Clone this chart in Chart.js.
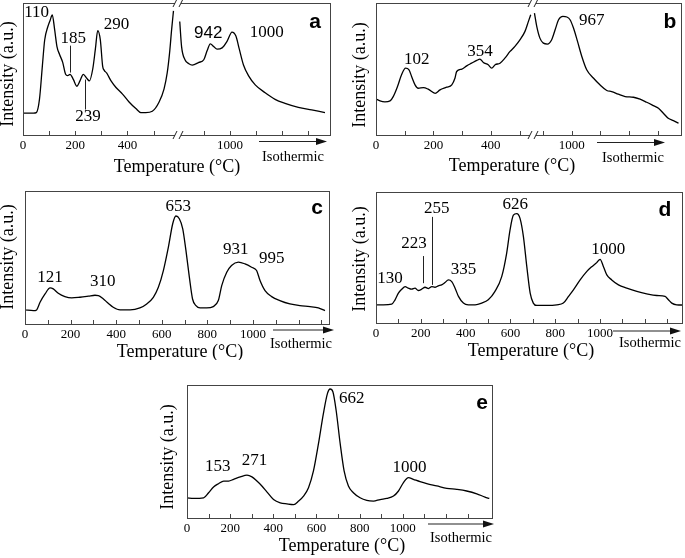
<!DOCTYPE html>
<html>
<head>
<meta charset="utf-8">
<script src="https://cdn.jsdelivr.net/npm/chart.js@4.4.1/dist/chart.umd.min.js"></script>
<style>
  body { margin: 0; background: #fff; width: 685px; height: 558px; position: relative; overflow: hidden; }
  canvas { position: absolute; }
</style>
</head>
<body>
<script>
// x values are axis positions (the temperature axis in a and b is cut, so 1000 sits left of its true place)
const posA = [0, 40, 51, 63, 74, 83, 95, 104, 112, 121, 130, 140, 152, 163, 171, 180, 193, 206, 218, 231, 244, 254, 267, 277, 286, 296, 305, 311, 320, 337, 356, 381, 406, 432, 451, 470, 495, 521, 540, 552, 561, 569, 576, 590, 600, 607, 620, 635, 648, 673, 692, 705, 717, 730, 743, 762, 781, 800, 815, 828, 844, 863, 889, 927, 965, 1003, 1054, 1105, 1156];
const sigA = [16.6, 16.6, 17, 27, 52, 72, 82, 87, 91, 80, 67, 61, 55, 46, 45, 46, 42, 37, 41, 46, 43, 41, 50, 65, 79, 72, 52, 49, 47, 41, 36, 31, 25, 20, 17, 17, 18, 25, 35, 47, 62, 80, 94, null, 86, 67, 57, 54, 53, 55, 57, 64, 69, 67, 65, 66, 71, 78, 75, 65, 53, 45, 38, 32, 27, 24, 21, 19, 17];

const posB = [0, 14, 31, 49, 60, 74, 89, 103, 115, 124, 136, 147, 165, 182, 206, 223, 246, 264, 275, 281, 299, 316, 333, 351, 362, 374, 391, 403, 415, 432, 449, 467, 484, 502, 519, 531, 539, 547, 552, 560, 571, 583, 597, 612, 624, 636, 651, 665, 676, 688, 702, 717, 734, 758, 780, 804, 821, 844, 868, 897, 920, 943, 966, 984, 1001, 1018, 1036, 1054];
const sigB = [27.3, 25.8, 25.1, 25.8, 29.1, 36.2, 45.6, 50.6, 49.4, 44.3, 38, 35.4, 35.9, 34.7, 31.6, 34.2, 36.2, 38, 43, 48.1, 49.9, 52.4, 54.4, 56.5, 57.5, 54.9, 53.2, 50.6, 53.2, 54.4, 58.2, 63.3, 67.1, 72.2, 78.5, 86.1, 91.1, null, 92.4, 82.3, 73.4, 69.6, 68.9, 72.2, 79.7, 87.3, 89.9, 89.4, 87.3, 81, 70.9, 59.5, 49.4, 43, 38, 33.7, 32.9, 30.9, 29.1, 28.6, 27.1, 24.8, 22.3, 20.3, 16.5, 12.7, 10.9, 8.9];

const posC = [0, 37, 51, 66, 88, 110, 124, 146, 175, 205, 241, 278, 307, 322, 344, 365, 387, 417, 461, 504, 534, 563, 585, 607, 629, 648, 662, 677, 692, 706, 721, 735, 750, 768, 797, 826, 848, 863, 885, 906, 936, 965, 994, 1016, 1031, 1053, 1082, 1118, 1162, 1206, 1250, 1287, 1316];
const sigC = [10.6, 10, 10.6, 16.3, 22.6, 27.1, 26.4, 23.1, 20.6, 19.6, 20.1, 20.9, 21.6, 21.4, 18.8, 15.6, 12.6, 10.6, 10.6, 12.1, 15.1, 20.1, 27.6, 40.2, 57.8, 75.4, 81.2, 79.1, 71.6, 55.3, 35.2, 18.8, 13.8, 12.1, 12.1, 13.1, 17.6, 28.9, 38.9, 44, 46.5, 45.2, 42.7, 40.2, 32.7, 25.1, 20.6, 17.6, 15.1, 13.8, 13.1, 12.1, 10];

const posD = [0, 33, 70, 85, 100, 115, 130, 144, 159, 174, 189, 204, 219, 234, 249, 263, 278, 293, 308, 323, 338, 353, 368, 390, 412, 442, 472, 501, 531, 561, 583, 598, 613, 628, 643, 658, 673, 688, 702, 717, 762, 807, 836, 859, 881, 911, 940, 963, 985, 1000, 1015, 1030, 1052, 1082, 1119, 1164, 1208, 1253, 1290, 1305, 1320, 1342, 1370];
const sigD = [13.9, 13.9, 14.4, 17.7, 22.8, 25.8, 27.8, 26.6, 25.8, 26.6, 24.8, 25.8, 27.3, 26.3, 27.8, 27.3, 28.4, 29.1, 30.9, 32.9, 31.6, 26.6, 20.3, 15.2, 13.9, 13.9, 15.2, 17.7, 24.1, 35.4, 53.2, 70.9, 82.3, 83.5, 79.7, 65.8, 43, 22.8, 15.2, 13.4, 13.4, 13.9, 15.2, 20.3, 25.3, 32.9, 39.2, 43, 46.1, 48.6, 43, 36.7, 32.9, 29.1, 26.6, 24.1, 22.3, 21, 20.3, 17.7, 15.2, 13.9, 13.7];

const posE = [0, 31, 77, 100, 123, 146, 170, 193, 216, 247, 278, 301, 324, 347, 370, 401, 432, 463, 494, 517, 540, 563, 586, 609, 632, 651, 663, 676, 691, 710, 728, 748, 771, 802, 833, 864, 895, 926, 957, 980, 1003, 1026, 1049, 1080, 1111, 1157, 1204, 1250, 1296, 1343, 1381, 1401];
const sigE = [15.2, 14.7, 15.2, 19, 23.3, 25.8, 27.8, 27.8, 29.1, 30.9, 32.2, 30.9, 27.8, 24.1, 19.7, 13.9, 11.4, 10.6, 10.1, 12.7, 16.5, 22.8, 35.4, 55.7, 78.5, 93.7, 97, 94.9, 81, 55.7, 35.4, 24.1, 19, 15.2, 13.2, 12.7, 13.9, 14.7, 16.5, 20.3, 26.6, 30.4, 29.1, 27.3, 25.8, 24.1, 22.3, 21.5, 20.3, 18.2, 15.7, 14.7];

// tick labels
const tickPosA = [0, 200, 400, 792];
const tickPosB = [0, 200, 400, 682];
const tickPosCDE = [0, 200, 400, 600, 800, 1000];
const tickTextAB = ['0', '200', '400', '1000'];
const tickTextCDE = ['0', '200', '400', '600', '800', '1000'];
const minorA = [100, 300, 500, 692, 892, 992, 1092];
const minorB = [100, 300, 500, 582, 782, 882, 982];
const minorCDE = [100, 300, 500, 700, 900, 1100, 1200, 1300];

// peak labels: text, x, y (last flag = sans font)
const peaksA = [['110', 52, 92.7], ['185', 192, 72.8], ['239', 249, 13.8], ['290', 358, 83.6], ['942', 709, 77.3, 1], ['1000', 933, 77.8]];
const peaksB = [['102', 142, 57.1], ['354', 362, 63.4], ['967', 752, 86.8]];
const peaksC = [['121', 110, 34.8], ['310', 341, 32.2], ['653', 672, 88.5], ['931', 925, 56.1], ['995', 1082, 49.1]];
const peaksD = [['130', 62, 34.2], ['223', 170, 60.3], ['255', 271, 87.5], ['335', 390, 40.7], ['626', 621, 90.1], ['1000', 1036, 55.9]];
const peaksE = [['153', 142, 38.9], ['271', 313, 43.4], ['662', 764, 89.6], ['1000', 1031, 37.9]];
// leader lines: x, y from, y to
const leadersA = [[179, 67.7, 47.3], [236, 42, 19.3]];
const leadersD = [[211, 51.1, 30.4], [251, 81, 29.1]];

const SERIF = '"Liberation Serif", "Times New Roman", serif';
const SANS = '"Liberation Sans", Arial, sans-serif';

const panels = [
  { pos: posA, sig: sigA, max: 1179, ticks: tickPosA, text: tickTextAB, minor: minorA, brk: 593, peaks: peaksA, leaders: leadersA, letter: 'a',
    box: [0, 0, 340, 178], area: [23, 3, 331, 135], iso: [236, 304, 6.5, 270, 22], xt: [154, 32], yt: [-15, 71], lt: [16, 19] },
  { pos: posB, sig: sigB, max: 1066, ticks: tickPosB, text: tickTextAB, minor: minorB, brk: 547, peaks: peaksB, leaders: [], letter: 'b',
    box: [340, 0, 345, 178], area: [376, 3, 682, 135], iso: [221, 289, 7.5, 257, 23], xt: [136, 31], yt: [-16, 72], lt: [12, 19] },
  { pos: posC, sig: sigC, max: 1338, ticks: tickPosCDE, text: tickTextCDE, minor: minorCDE, brk: null, peaks: peaksC, leaders: [], letter: 'c',
    box: [0, 178, 340, 182], area: [25, 191, 330, 324], iso: [248, 309, 6, 276, 20], xt: [155, 28], yt: [-17, 66], lt: [13, 17] },
  { pos: posD, sig: sigD, max: 1370, ticks: tickPosCDE, text: tickTextCDE, minor: minorCDE, brk: null, peaks: peaksD, leaders: leadersD, letter: 'd',
    box: [340, 178, 345, 182], area: [376, 192, 683, 323], iso: [237, 305, 8, 274, 20], xt: [155, 28], yt: [-16, 67], lt: [18, 18] },
  { pos: posE, sig: sigE, max: 1418, ticks: tickPosCDE, text: tickTextCDE, minor: minorCDE, brk: null, peaks: peaksE, leaders: [], letter: 'e',
    box: [150, 362, 370, 196], area: [187, 385, 493, 518], iso: [241, 307, 6, 274, 20], xt: [155, 28], yt: [-19, 72], lt: [11, 18] }
];

const decor = {
  id: 'decor',
  afterDraw(chart) {
    const p = chart.options.plugins.decor.panel;
    const { ctx, chartArea: ca, scales: { x, y } } = chart;
    const L = Math.round(ca.left), R = Math.round(ca.right), T = Math.round(ca.top), B = Math.round(ca.bottom);
    ctx.save();
    ctx.strokeStyle = '#444';
    ctx.lineWidth = 1;
    ctx.strokeRect(L + 0.5, T + 0.5, R - L - 1, B - T);

    // inward tick marks
    ctx.beginPath();
    p.ticks.concat(p.minor).forEach(v => {
      const px = Math.round(x.getPixelForValue(v)) + 0.5;
      ctx.moveTo(px, B);
      ctx.lineTo(px, B - 4);
    });
    ctx.stroke();

    // axis break
    if (p.brk != null) {
      const bx = Math.round(x.getPixelForValue(p.brk));
      [T, B].forEach(yb => {
        ctx.fillStyle = '#fff';
        ctx.fillRect(bx - 3, yb - 1, 6, 3);
        ctx.beginPath();
        ctx.moveTo(bx - 5, yb + 4); ctx.lineTo(bx - 1, yb - 4);
        ctx.moveTo(bx + 1, yb + 4); ctx.lineTo(bx + 5, yb - 4);
        ctx.strokeStyle = '#222';
        ctx.stroke();
      });
    }

    // leader lines
    ctx.strokeStyle = '#222';
    p.leaders.forEach(l => {
      const lx = Math.round(x.getPixelForValue(l[0])) + 0.5;
      ctx.beginPath();
      ctx.moveTo(lx, y.getPixelForValue(l[1]));
      ctx.lineTo(lx, y.getPixelForValue(l[2]));
      ctx.stroke();
    });

    // peak labels
    ctx.fillStyle = '#000';
    ctx.textAlign = 'center';
    ctx.textBaseline = 'middle';
    p.peaks.forEach(k => {
      ctx.font = k[3] ? '17px ' + SANS : '17px ' + SERIF;
      ctx.fillText(k[0], x.getPixelForValue(k[1]), y.getPixelForValue(k[2]));
    });

    // panel letter
    ctx.font = 'bold 21px ' + SANS;
    ctx.fillText(p.letter, R - p.lt[0], T + p.lt[1]);

    // isothermic arrow
    const [x1, x2, dy, tx, ty] = p.iso;
    const ay = B + dy;
    ctx.beginPath();
    ctx.moveTo(L + x1, ay);
    ctx.lineTo(L + x2 - 8, ay);
    ctx.lineWidth = 1.2;
    ctx.stroke();
    ctx.beginPath();
    ctx.moveTo(L + x2, ay);
    ctx.lineTo(L + x2 - 11, ay - 3.5);
    ctx.lineTo(L + x2 - 11, ay + 3.5);
    ctx.closePath();
    ctx.fillStyle = '#111';
    ctx.fill();
    ctx.fillStyle = '#000';
    ctx.font = '14.5px ' + SERIF;
    ctx.fillText('Isothermic', L + tx, B + ty);

    // axis titles
    ctx.font = '18px ' + SERIF;
    ctx.fillText('Temperature (°C)', L + p.xt[0], B + p.xt[1]);
    ctx.translate(L + p.yt[0], T + p.yt[1]);
    ctx.rotate(-Math.PI / 2);
    ctx.fillText('Intensity (a.u.)', 0, 0);
    ctx.restore();
  }
};

panels.forEach(p => {
  const cv = document.createElement('canvas');
  cv.width = p.box[2];
  cv.height = p.box[3];
  cv.style.left = p.box[0] + 'px';
  cv.style.top = p.box[1] + 'px';
  document.body.appendChild(cv);
  const xh = p.box[1] + p.box[3] - p.area[3];

  new Chart(cv, {
    type: 'line',
    data: {
      datasets: [{
        data: p.pos.map((v, i) => ({ x: v, y: p.sig[i] })),
        borderColor: '#000',
        borderWidth: 1.3,
        pointRadius: 0,
        cubicInterpolationMode: 'monotone',
        spanGaps: false
      }]
    },
    options: {
      responsive: false,
      animation: false,
      layout: {
        padding: {
          left: p.area[0] - p.box[0],
          top: p.area[1] - p.box[1],
          right: p.box[0] + p.box[2] - p.area[2],
          bottom: 0
        }
      },
      scales: {
        x: {
          type: 'linear',
          min: 0,
          max: p.max,
          grid: { display: false, drawTicks: false },
          border: { display: false },
          afterBuildTicks: s => { s.ticks = p.ticks.map(v => ({ value: v })); },
          afterFit: s => { s.height = xh; },
          ticks: {
            autoSkip: false,
            maxRotation: 0,
            padding: 3,
            color: '#000',
            font: { family: SERIF, size: 13 },
            callback: (v, i) => p.text[i]
          }
        },
        y: { display: false, min: 0, max: 100 }
      },
      plugins: {
        legend: { display: false },
        tooltip: { enabled: false },
        decor: { panel: p }
      }
    },
    plugins: [decor]
  });
});
</script>
</body>
</html>
